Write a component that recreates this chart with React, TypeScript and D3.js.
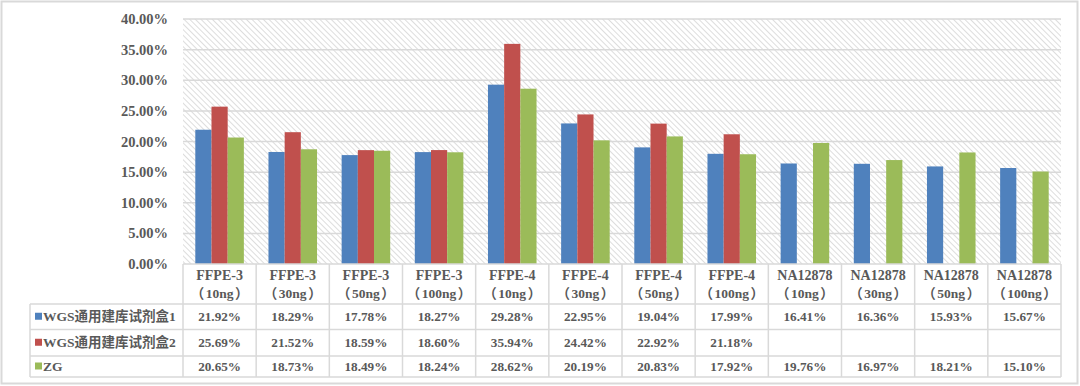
import React from "react";
import * as d3 from "d3";

const categories = [
  ["FFPE-3", "10ng"], ["FFPE-3", "30ng"], ["FFPE-3", "50ng"], ["FFPE-3", "100ng"],
  ["FFPE-4", "10ng"], ["FFPE-4", "30ng"], ["FFPE-4", "50ng"], ["FFPE-4", "100ng"],
  ["NA12878", "10ng"], ["NA12878", "30ng"], ["NA12878", "50ng"], ["NA12878", "100ng"],
];
const seriesNames = ["WGS通用建库试剂盒1", "WGS通用建库试剂盒2", "ZG"];
const seriesColors = ["#4F81BD", "#C0504D", "#9BBB59"];
const kit1 = [21.92, 18.29, 17.78, 18.27, 29.28, 22.95, 19.04, 17.99, 16.41, 16.36, 15.93, 15.67];
const kit2: (number | null)[] = [25.69, 21.52, 18.59, 18.6, 35.94, 24.42, 22.92, 21.18, null, null, null, null];
const zg = [20.65, 18.73, 18.49, 18.24, 28.62, 20.19, 20.83, 17.92, 19.76, 16.97, 18.21, 15.1];
const yTicks = [0, 5, 10, 15, 20, 25, 30, 35, 40];

const series = [kit1, kit2, zg];

export default function App() {
  const W = 1080, H = 386;
  const left = 183, right = 1061, top = 19, bottom = 264;
  const headerBottom = 304;
  const rowBounds = [304, 329.5, 356, 377];
  const tableLeft = 30;
  const x = d3.scaleBand<number>().domain(categories.map((_, i) => i)).range([left, right]);
  const inner = d3.scaleBand<number>().domain([0, 1, 2]).range([0, x.bandwidth()]).paddingInner(0).paddingOuter(0.76);
  const y = d3.scaleLinear().domain([0, 40]).range([bottom, top]);
  const font = '"Liberation Serif", "Noto Sans CJK SC", serif';
  const textColor = "#595959";
  const grid = "#d9d9d9";

  return (
    <div style={{ position: "absolute", left: 0, top: 0 }}>
      <svg width={W} height={H} style={{ display: "block" }} fontFamily={font}>
        <defs>
          <pattern id="hatch" width="4" height="4" patternUnits="userSpaceOnUse" patternTransform="rotate(-45)">
            <rect width="4" height="4" fill="#ffffff" />
            <line x1="0" y1="0" x2="0" y2="4" stroke="#dadada" strokeWidth="1.8" />
          </pattern>
        </defs>
        <rect x={0} y={0} width={W} height={H} fill="#ffffff" />
        <rect x={1.5} y={1.5} width={W - 4} height={H - 4} fill="none" stroke="#d9d9d9" strokeWidth={2} />
        {/* plot area */}
        <rect x={left} y={top} width={right - left} height={bottom - top} fill="url(#hatch)" />
        {yTicks.filter(t => t > 0).map(t => (
          <line key={t} x1={left} x2={right} y1={y(t)} y2={y(t)} stroke={grid} strokeWidth={1.5} />
        ))}
        {yTicks.map(t => (
          <text key={t} x={168} y={y(t)} dy="0.35em" textAnchor="end" fontSize={14.5} fontWeight="bold" fill={textColor}>
            {t.toFixed(2)}%
          </text>
        ))}
        {/* bars */}
        {series.map((s, si) =>
          s.map((v, ci) =>
            v == null ? null : (
              <rect key={`${si}-${ci}`} x={(x(ci) as number) + (inner(si) as number)} y={y(v)}
                width={inner.bandwidth()} height={y(0) - y(v)} fill={seriesColors[si]} />
            )
          )
        )}
        {/* table */}
        <g stroke={grid} strokeWidth={1.5} fill="none">
          <line x1={left} x2={right} y1={bottom} y2={bottom} />
          {rowBounds.map((rb, i) => (
            <line key={i} x1={tableLeft} x2={right} y1={rb} y2={rb} />
          ))}
          <line x1={tableLeft} x2={tableLeft} y1={headerBottom} y2={rowBounds[3]} />
          {categories.map((_, i) => (
            <line key={i} x1={x(i) as number} x2={x(i) as number} y1={bottom} y2={rowBounds[3]} />
          ))}
          <line x1={right} x2={right} y1={bottom} y2={rowBounds[3]} />
        </g>
        {categories.map((c, i) => {
          const cx = (x(i) as number) + x.bandwidth() / 2;
          return (
            <g key={i} fontSize={14} fontWeight="bold" fill={textColor} textAnchor="middle">
              <text x={cx} y={275} dy="0.35em">{c[0]}</text>
              <text x={cx} y={293} dy="0.35em" fontSize={13.5}>
                <tspan>（</tspan><tspan dx={1.5}>{c[1]}</tspan><tspan dx={1.5}>）</tspan>
              </text>
            </g>
          );
        })}
        {series.map((s, si) => {
          const cy = (rowBounds[si] + rowBounds[si + 1]) / 2;
          return (
            <g key={si}>
              <rect x={35} y={cy - 4} width={7} height={7} fill={seriesColors[si]} />
              <text x={43} y={cy} dy="0.35em" fontSize={13.5} fontWeight="bold" fill={textColor}>{seriesNames[si]}</text>
              {s.map((v, ci) => v == null ? null : (
                <text key={ci} x={(x(ci) as number) + x.bandwidth() / 2} y={cy} dy="0.35em" textAnchor="middle"
                  fontSize={13.2} fontWeight="bold" fill={textColor}>{v.toFixed(2)}%</text>
              ))}
            </g>
          );
        })}
      </svg>
    </div>
  );
}
